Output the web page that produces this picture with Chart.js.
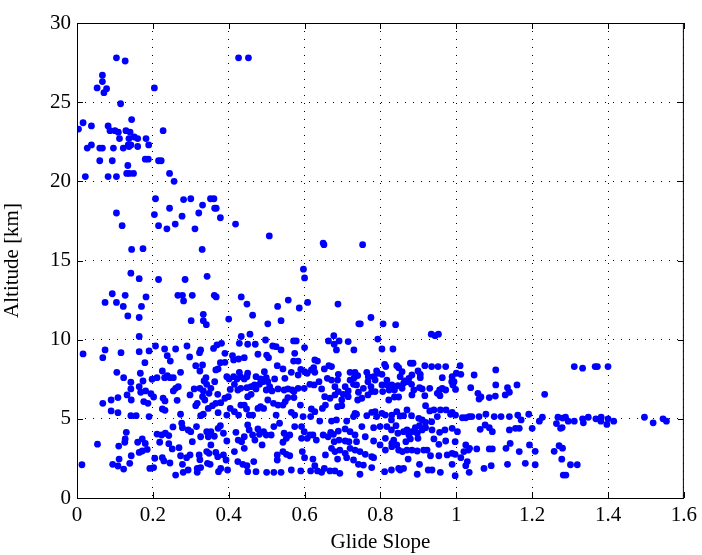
<!DOCTYPE html>
<html lang="en">
<head>
    <meta charset="UTF-8">
    <title>Glide Slope vs Altitude</title>
    <script src="https://cdn.jsdelivr.net/npm/chart.js"></script>
    <style>
        html, body { margin: 0; padding: 0; background: #fff; }
        #wrap { width: 702px; height: 555px; }
    </style>
</head>
<body>
    <div id="wrap"><canvas id="grafico"></canvas></div>

    <script>
        // [glide slope, altitude km], grouped by region
        const upperPoints = [
            [0.104,27.8],[0.127,27.6],[0.426,27.8],[0.452,27.8],[0.067,26.7],[0.067,26.3],[0.053,25.9],
            [0.078,25.85],[0.071,25.6],[0.204,25.9],[0.115,24.9],[0.144,23.9],[0.016,23.7],[0.004,23.3],
            [0.038,23.5],[0.082,23.5],[0.087,23.2],[0.100,23.2],[0.109,23.1],[0.129,23.2],[0.140,23.1],
            [0.227,23.2],[0.112,22.7],[0.137,22.7],[0.151,22.8],[0.160,22.7],[0.182,22.7],[0.038,22.3],
            [0.027,22.1],[0.060,22.1],[0.067,22.1],[0.096,22.1],[0.122,22.1],[0.135,22.3],[0.142,22.3],
            [0.137,22.2],[0.160,22.2],[0.189,22.3],[0.060,21.3],[0.093,21.3],[0.180,21.4],[0.188,21.4],
            [0.215,21.3],[0.222,21.3],[0.134,21.0],[0.131,20.5],[0.138,20.5],[0.149,20.5],[0.022,20.3],
            [0.082,20.3],[0.104,20.3],[0.244,20.5],[0.256,20.0]
        ];

        const middlePoints = [
            [0.207,18.9],[0.281,18.85],[0.300,18.9],[0.352,18.9],[0.361,18.9],[0.104,18.0],[0.244,18.3],
            [0.331,18.5],[0.363,18.3],[0.367,18.3],[0.204,17.9],[0.277,17.8],[0.321,18.0],[0.378,17.7],
            [0.119,17.2],[0.215,17.2],[0.237,17.0],[0.259,17.3],[0.311,17.0],[0.418,17.3],[0.507,16.55],
            [0.144,15.7],[0.174,15.75],[0.330,15.7],[0.142,14.2],[0.164,13.85],[0.215,13.8],[0.285,13.8],
            [0.343,14.0],[0.093,12.9],[0.127,12.8],[0.074,12.35],[0.104,12.35],[0.122,12.1],[0.182,12.7],
            [0.170,12.1],[0.266,12.8],[0.278,12.8],[0.281,12.45],[0.304,12.8],[0.362,12.8],[0.367,12.7],
            [0.134,11.5],[0.164,11.4],[0.333,11.6],[0.333,11.2],[0.301,11.2],[0.341,10.95],[0.400,11.3],
            [0.433,12.7],[0.448,12.25],[0.463,11.55],[0.529,12.1],[0.503,11.0],[0.538,11.2],[0.164,10.2],
            [0.433,10.2],[0.456,10.35],
            [0.649,16.1],[0.651,16.0],[0.753,16.0],[0.597,14.45],[0.600,13.9],[0.557,12.5],[0.586,12.0],
            [0.608,12.35],[0.688,12.25],[0.775,11.4],[0.743,11.0],[0.747,11.0],[0.807,11.0],[0.840,10.95],
            [0.677,10.25],[0.934,10.35],[0.944,10.25],[0.953,10.35]
        ];

        const bandLeftPoints = [
            [0.016,9.1],[0.054,3.4],[0.013,2.1],
            [0.074,9.35],[0.068,8.86],[0.116,9.18],[0.164,9.24],[0.190,9.29],[0.207,9.60],[0.231,9.41],
            [0.238,8.99],[0.246,8.65],[0.260,9.41],[0.290,9.60],[0.297,8.91],[0.323,9.18],[0.326,9.35],
            [0.360,9.45],[0.369,9.67],[0.381,9.77],[0.390,9.14],[0.410,8.99],[0.413,8.72],[0.428,9.77],
            [0.450,9.71],[0.470,9.71],[0.426,8.78],[0.441,8.86],[0.477,9.08],[0.497,9.98],[0.500,9.03],
            [0.505,8.86],[0.516,9.60],[0.525,9.56],[0.538,9.35],[0.571,9.92],[0.578,9.92],[0.574,9.14],
            [0.571,8.65],[0.583,8.65],[0.600,9.50],[0.627,8.72],[0.634,8.65],[0.663,9.92],
            [0.105,7.94],[0.123,7.60],[0.167,7.88],[0.179,8.55],[0.174,7.39],[0.198,7.50],[0.211,7.60],
            [0.225,8.02],[0.231,7.60],[0.238,7.73],[0.245,7.60],[0.254,7.60],[0.273,7.94],[0.313,8.36],
            [0.331,8.40],[0.324,8.02],[0.340,7.60],[0.366,8.09],[0.372,8.15],[0.378,8.55],[0.390,8.57],
            [0.395,7.66],[0.401,7.52],[0.413,7.66],[0.422,7.52],[0.431,7.66],[0.441,7.52],[0.448,7.66],
            [0.450,7.88],[0.428,7.94],[0.472,7.66],[0.484,7.52],[0.494,7.98],[0.499,7.60],[0.503,7.35],
            [0.521,7.52],[0.528,8.36],[0.543,8.15],[0.548,7.56],[0.565,7.94],[0.583,7.77],[0.590,8.13],
            [0.600,7.98],[0.607,7.88],[0.618,8.09],[0.624,8.23],[0.627,7.94],[0.652,8.15],[0.664,8.36],
            [0.660,7.56],
            [0.142,7.31],[0.090,6.19],[0.108,6.34],[0.132,6.51],[0.142,6.89],[0.143,6.19],[0.164,7.03],
            [0.168,6.68],[0.181,6.76],[0.195,6.59],[0.202,6.38],[0.176,6.09],[0.187,5.98],[0.227,6.30],
            [0.232,6.13],[0.254,6.76],[0.260,6.93],[0.267,7.03],[0.264,6.17],[0.298,6.51],[0.309,6.89],
            [0.324,6.93],[0.331,6.40],[0.333,6.76],[0.335,7.39],[0.342,7.18],[0.348,6.61],[0.353,6.93],
            [0.317,5.98],[0.337,6.19],[0.363,7.35],[0.371,6.55],[0.379,6.02],[0.390,6.30],[0.399,6.40],
            [0.404,6.86],[0.415,7.18],[0.424,6.82],[0.432,6.93],[0.448,6.97],[0.459,7.03],[0.468,7.14],
            [0.450,6.40],[0.459,6.55],[0.472,6.89],[0.481,7.18],[0.490,7.35],[0.499,6.82],[0.508,7.03],
            [0.514,6.76],[0.530,6.89],[0.546,6.82],[0.556,6.89],[0.567,6.82],[0.572,6.72],[0.556,6.34],
            [0.572,6.34],[0.583,6.93],[0.599,6.93],[0.614,7.18],[0.625,7.14],[0.638,7.35],[0.645,6.89],
            [0.653,6.40],[0.667,6.30],[0.518,5.98],[0.530,5.87],[0.503,6.19],
            [0.068,5.98],[0.090,5.50],[0.108,5.39],[0.142,5.20],[0.156,5.20],[0.190,5.14],[0.225,5.62],
            [0.232,5.54],[0.273,5.29],[0.313,5.83],[0.326,5.20],[0.333,5.29],[0.346,5.66],[0.357,5.83],
            [0.366,5.98],[0.372,5.39],[0.395,5.24],[0.404,5.66],[0.415,5.45],[0.426,5.24],[0.432,5.87],
            [0.441,5.87],[0.447,5.62],[0.454,5.24],[0.463,5.24],[0.477,5.66],[0.484,5.77],[0.492,5.66],
            [0.525,5.24],[0.543,5.87],[0.549,6.09],[0.565,5.41],[0.574,5.24],[0.589,5.87],[0.596,5.14],
            [0.618,5.62],[0.627,5.45],[0.647,5.66],[0.655,5.87],[0.616,5.14],
            [0.130,4.15],[0.127,3.73],[0.126,3.52],[0.110,3.28],[0.160,3.52],[0.172,3.73],[0.180,3.45],
            [0.211,4.04],[0.218,3.52],[0.223,3.98],[0.233,4.09],[0.242,3.94],[0.253,4.49],[0.242,3.43],
            [0.276,4.72],[0.278,4.44],[0.293,4.30],[0.300,4.19],[0.315,4.51],[0.326,3.87],[0.304,3.56],
            [0.342,4.19],[0.353,4.19],[0.346,3.87],[0.362,3.90],[0.353,3.35],[0.372,4.40],[0.378,4.57],
            [0.386,4.09],[0.395,3.60],[0.419,4.15],[0.425,3.66],[0.434,3.56],[0.441,3.87],[0.450,4.61],
            [0.454,4.30],[0.463,3.98],[0.469,3.66],[0.477,4.36],[0.481,4.02],[0.492,4.19],[0.499,3.98],
            [0.512,3.98],[0.519,4.51],[0.534,4.72],[0.546,4.09],[0.552,3.77],[0.561,3.98],[0.543,3.52],
            [0.574,4.51],[0.592,4.51],[0.599,4.19],[0.592,3.77],[0.607,3.77],[0.614,3.98],[0.622,3.98],
            [0.631,3.66],[0.640,4.86],[0.649,3.98],[0.662,3.87],[0.669,4.15],
            [0.094,2.13],[0.111,2.46],[0.108,2.02],[0.123,1.83],[0.143,2.67],[0.139,2.19],[0.164,2.88],
            [0.172,2.97],[0.185,3.07],[0.192,1.87],[0.202,1.92],[0.205,2.51],[0.225,2.55],[0.229,2.34],
            [0.245,2.21],[0.251,3.10],[0.269,3.18],[0.273,2.67],[0.278,2.13],[0.289,2.55],[0.298,2.72],
            [0.280,1.62],[0.293,1.77],[0.260,1.45],[0.322,2.72],[0.324,2.42],[0.317,1.87],[0.326,1.92],
            [0.317,1.62],[0.344,2.19],[0.351,2.13],[0.342,2.93],[0.348,2.82],[0.366,2.88],[0.371,2.61],
            [0.386,2.72],[0.393,2.40],[0.379,1.87],[0.373,1.66],[0.397,1.77],[0.415,2.93],[0.424,2.30],
            [0.437,2.13],[0.448,2.04],[0.450,1.66],[0.466,2.30],[0.472,1.66],[0.441,3.14],[0.488,3.35],
            [0.500,1.62],[0.519,1.62],[0.538,1.62],[0.528,2.40],[0.528,2.72],[0.543,2.93],[0.552,2.76],
            [0.561,2.67],[0.565,1.77],[0.590,1.71],[0.594,2.93],[0.600,2.55],[0.616,1.71],[0.622,2.46],
            [0.627,2.04],[0.634,1.71],[0.645,1.62],[0.655,2.72],[0.652,1.87],[0.667,1.71]
        ];

        const bandRightPoints = [
            [0.678,9.71],[0.691,9.92],[0.715,9.88],[0.684,9.35],[0.730,9.35],[0.793,10.04],[0.804,9.41],
            [0.833,9.41],
            [0.671,8.30],[0.689,7.81],[0.687,7.45],[0.671,7.45],[0.720,7.94],[0.733,7.94],[0.740,7.73],
            [0.720,7.45],[0.731,7.60],[0.764,7.94],[0.768,7.66],[0.782,7.66],[0.790,8.02],[0.793,7.88],
            [0.786,7.45],[0.767,7.35],[0.811,8.44],[0.814,8.30],[0.804,7.81],[0.817,7.45],[0.843,8.36],
            [0.848,8.23],[0.857,7.98],[0.852,7.66],[0.864,7.39],[0.875,7.56],[0.883,7.77],[0.879,8.51],
            [0.886,8.51],[0.899,8.02],[0.905,7.81],[0.905,7.60],[0.917,8.36],[0.935,8.30],[0.952,8.30],
            [0.972,8.30],[0.989,7.66],[0.963,7.60],[1.000,7.88],[1.010,8.36],[1.012,7.81],[1.047,7.77],
            [1.104,8.09],
            [0.680,7.03],[0.689,6.72],[0.702,6.55],[0.707,7.03],[0.715,6.76],[0.729,7.18],[0.742,6.68],
            [0.755,6.93],[0.737,7.14],[0.680,6.51],[0.698,6.19],[0.715,6.40],[0.775,7.03],[0.777,6.72],
            [0.786,6.72],[0.767,6.51],[0.804,7.14],[0.806,6.72],[0.817,7.14],[0.823,6.82],[0.830,7.14],
            [0.837,6.82],[0.846,7.10],[0.848,6.38],[0.857,6.93],[0.861,7.24],[0.873,7.35],[0.882,7.18],
            [0.883,6.51],[0.888,6.82],[0.903,6.97],[0.910,6.89],[0.917,6.46],[0.930,6.93],[0.950,6.61],
            [0.956,6.82],[0.963,6.93],[0.957,6.46],[0.972,6.82],[0.988,7.35],[0.991,7.14],[0.998,6.86],
            [0.994,7.35],[1.038,6.97],[1.057,6.61],[1.060,6.25],[1.065,6.38],[1.087,6.34],[1.104,7.14],
            [1.103,6.44],[1.129,6.51],[1.135,6.97],[1.140,6.68],[1.160,7.14],[0.740,6.19],[0.751,6.30],
            [0.822,6.19],[0.837,6.38],[0.687,5.77],[0.698,5.83],
            [0.733,5.35],[0.737,5.29],[0.729,5.14],[0.684,4.93],[0.671,4.86],[0.711,4.86],[0.764,5.20],
            [0.777,5.41],[0.786,5.45],[0.790,5.14],[0.804,5.35],[0.813,5.24],[0.829,4.93],[0.830,5.24],
            [0.843,5.45],[0.852,5.18],[0.861,5.20],[0.870,5.56],[0.882,5.20],[0.901,5.03],[0.919,5.83],
            [0.930,5.50],[0.941,5.56],[0.950,5.14],[0.958,5.56],[0.973,5.56],[0.985,5.29],[0.989,5.41],
            [0.998,5.24],[1.016,5.07],[1.025,5.07],[1.034,5.14],[1.041,5.14],[1.060,5.14],[1.078,5.29],
            [1.100,5.14],[1.118,5.14],[1.140,5.14],[1.162,5.24],[1.171,4.93],[1.191,5.29],[0.910,4.93],
            [0.919,4.78],[0.935,4.82],
            [0.676,4.02],[0.689,4.23],[0.707,4.36],[0.720,4.19],[0.733,3.98],[0.751,4.51],[0.782,4.44],
            [0.760,3.87],[0.678,3.56],[0.691,3.66],[0.707,3.60],[0.717,3.56],[0.737,3.56],[0.799,4.51],
            [0.817,4.51],[0.829,4.30],[0.841,4.57],[0.846,4.09],[0.861,4.19],[0.870,4.30],[0.875,3.98],
            [0.883,4.19],[0.892,4.44],[0.897,4.09],[0.903,4.57],[0.910,4.30],[0.919,4.44],[0.936,4.30],
            [0.956,4.15],[0.970,4.30],[0.899,3.77],[0.941,3.73],[0.954,3.39],[0.972,3.60],[0.989,4.40],
            [1.003,4.19],[0.997,3.56],[1.063,4.34],[1.076,4.61],[1.087,4.44],[1.095,4.19],[1.140,4.30],
            [1.156,4.40],[1.166,4.40],[1.025,3.35],[1.035,3.14],[0.782,3.60],[0.813,3.77],[0.830,3.45],
            [0.843,3.35],[0.867,3.56],[0.879,3.73],[0.835,3.66],
            [0.671,3.14],[0.680,2.93],[0.693,3.03],[0.707,2.82],[0.720,3.14],[0.733,3.03],[0.746,2.93],
            [0.760,2.76],[0.687,2.46],[0.711,2.55],[0.729,2.40],[0.742,2.13],[0.755,2.08],[0.777,2.61],
            [0.782,2.55],[0.680,1.71],[0.693,1.56],[0.746,1.50],[0.777,1.92],[0.799,3.35],[0.813,3.03],
            [0.830,3.24],[0.848,3.03],[0.858,2.93],[0.870,3.03],[0.883,3.03],[0.897,2.97],[0.914,3.03],
            [0.923,3.03],[0.811,1.66],[0.829,1.77],[0.848,1.87],[0.852,1.77],[0.861,1.87],[0.873,2.46],
            [0.897,1.50],[0.903,2.13],[0.926,1.77],[0.936,1.77],[0.958,1.62],[0.932,2.67],[0.954,2.67],
            [0.976,2.72],[0.989,2.82],[0.997,2.76],[0.989,2.13],[0.997,1.41],[1.012,2.55],[1.020,2.93],
            [1.032,3.03],[1.029,2.30],[1.025,2.04],[1.034,1.62],[1.054,3.10],[1.073,1.87],[1.087,3.10],
            [1.095,3.10],[1.092,2.04],[1.131,3.14],[1.142,3.45],[1.135,2.13],[1.166,2.93],[1.182,2.19],
            [1.193,3.35]
        ];

        const tailPoints = [
            [1.311,8.3],[1.333,8.2],[1.366,8.3],[1.372,8.3],[1.400,8.3],[1.233,6.55],[1.227,5.1],
            [1.219,4.85],[1.264,4.7],[1.268,5.1],[1.280,5.05],[1.288,5.1],[1.295,4.85],[1.311,4.85],
            [1.335,4.75],[1.333,5.0],[1.348,5.1],[1.368,5.0],[1.382,5.1],[1.381,4.85],[1.400,5.0],
            [1.397,4.65],[1.415,4.85],[1.496,5.1],[1.519,4.75],[1.545,5.0],[1.554,4.85],[1.200,4.4],
            [1.275,4.4],[1.279,4.45],[1.208,2.95],[1.258,2.95],[1.271,3.3],[1.280,3.15],[1.278,2.45],
            [1.208,2.1],[1.301,2.1],[1.319,2.1],[1.282,1.45],[1.289,1.45]
        ];

        const xTicks = [0, 0.2, 0.4, 0.6, 0.8, 1, 1.2, 1.4, 1.6];
        const yTicks = [0, 5, 10, 15, 20, 25, 30];

        const todos = [...upperPoints, ...middlePoints, ...bandLeftPoints, ...bandRightPoints, ...tailPoints]
            .map(p => ({ x: p[0], y: p[1] }));

        const fuente = "'Liberation Serif', 'Times New Roman', serif";

        // caja negra y marcas hacia dentro en los cuatro lados
        const cajaPlugin = {
            id: 'caja',
            afterDraw(chart) {
                const { ctx, chartArea: a, scales } = chart;
                ctx.save();
                ctx.strokeStyle = '#000';
                ctx.lineWidth = 1;
                ctx.setLineDash([]);
                ctx.strokeRect(a.left + 0.5, a.top + 0.5, a.right - a.left - 1, a.bottom - a.top);
                const len = 6;
                ctx.beginPath();
                xTicks.forEach(v => {
                    const px = Math.round(scales.x.getPixelForValue(v)) + 0.5;
                    ctx.moveTo(px, a.bottom); ctx.lineTo(px, a.bottom - len);
                    ctx.moveTo(px, a.top); ctx.lineTo(px, a.top + len);
                });
                yTicks.forEach(v => {
                    const py = Math.round(scales.y.getPixelForValue(v)) + 0.5;
                    ctx.moveTo(a.left, py); ctx.lineTo(a.left + len, py);
                    ctx.moveTo(a.right, py); ctx.lineTo(a.right - len, py);
                });
                ctx.stroke();
                ctx.restore();
            }
        };

        const ctx = document.getElementById('grafico').getContext('2d');
        new Chart(ctx, {
            type: 'scatter',
            data: {
                datasets: [{
                    data: todos,
                    backgroundColor: '#0000ff',
                    borderWidth: 0,
                    pointRadius: 3.4,
                    pointHoverRadius: 3.4
                }]
            },
            options: {
                responsive: true,
                maintainAspectRatio: false,
                animation: false,
                layout: { padding: { top: 23, right: 17, left: 0, bottom: 0 } },
                plugins: {
                    legend: { display: false },
                    tooltip: { enabled: false }
                },
                scales: {
                    x: {
                        type: 'linear',
                        min: 0, max: 1.6,
                        afterBuildTicks: s => { s.ticks = xTicks.map(v => ({ value: v })); },
                        afterFit: s => { s.height = 57; },
                        grid: { color: '#000', lineWidth: 1, drawTicks: false },
                        border: { display: false, dash: [1, 7] },
                        ticks: {
                            color: '#000', padding: 5,
                            font: { family: fuente, size: 21 },
                            callback: v => String(+v.toFixed(1))
                        },
                        title: {
                            display: true, text: 'Glide Slope', color: '#000',
                            font: { family: fuente, size: 21 }, padding: { top: -4, bottom: 0 }
                        }
                    },
                    y: {
                        type: 'linear',
                        min: 0, max: 30,
                        afterBuildTicks: s => { s.ticks = yTicks.map(v => ({ value: v })); },
                        afterFit: s => { s.width = 77; },
                        grid: { color: '#000', lineWidth: 1, drawTicks: false },
                        border: { display: false, dash: [1, 7] },
                        ticks: {
                            color: '#000', padding: 6,
                            font: { family: fuente, size: 21 }
                        },
                        title: {
                            display: true, text: 'Altitude [km]', color: '#000',
                            font: { family: fuente, size: 21 }, padding: { top: 0, bottom: 2 }
                        }
                    }
                }
            },
            plugins: [cajaPlugin]
        });
    </script>
</body>
</html>
